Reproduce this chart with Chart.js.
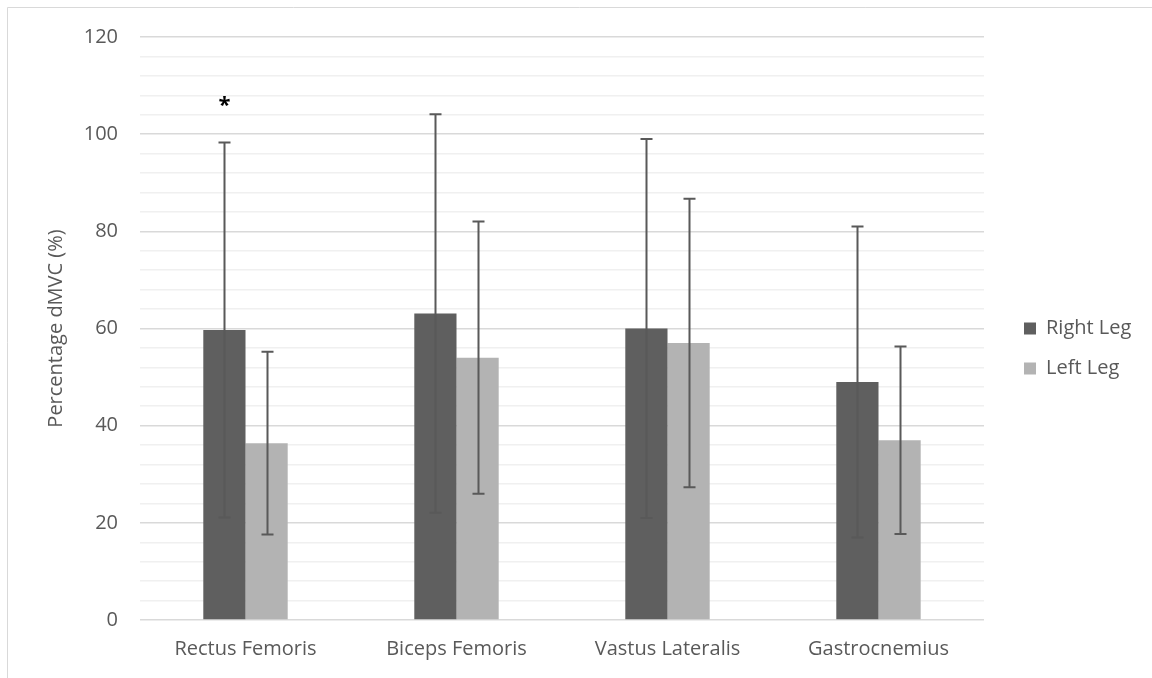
<!DOCTYPE html>
<html>
<head>
<meta charset="utf-8">
<script src="https://cdn.jsdelivr.net/npm/chart.js@4/dist/chart.umd.min.js"></script>
<style>
  html, body { margin: 0; padding: 0; background: #fff; }
  #wrap { width: 1152px; height: 678px; position: relative; }
</style>
</head>
<body>
<div id="wrap"><canvas id="chart"></canvas></div>
<script>
const muscles = ["Rectus Femoris", "Biceps Femoris", "Vastus Lateralis", "Gastrocnemius"];
const rightLeg = [59.7, 63.1, 60.0, 49.0];
const leftLeg = [36.4, 54.0, 57.0, 37.0];
const rightErr = [38.6, 41.0, 39.0, 32.0];
const leftErr = [18.8, 28.0, 29.7, 19.3];
const starred = [true, false, false, false]; // significant difference marker
const starValue = 106;

const axisGrey = "#595959";
const fontFam = "'Open Sans'";

// thin frame round the figure like the office export
const framePlugin = {
    id: "frame",
    beforeDraw(chart) {
        const ctx = chart.ctx;
        ctx.save();
        ctx.fillStyle = "#fff";
        ctx.fillRect(0, 0, chart.width, chart.height);
        ctx.strokeStyle = "#d9d9d9";
        ctx.lineWidth = 1;
        ctx.beginPath();
        ctx.moveTo(7.5, chart.height);
        ctx.lineTo(7.5, 7.5);
        ctx.lineTo(chart.width, 7.5);
        ctx.stroke();
        ctx.restore();
    }
};

// legend sits a bit away from the plot, with a fixed width
const legendPlacer = {
    id: "legendPlacer",
    beforeLayout(chart) {
        const lg = chart.legend;
        if (lg && !lg._wideFit) {
            const origFit = lg.fit;
            lg.fit = function() {
                origFit.call(this);
                this.width = 168;
            };
            lg._wideFit = true;
        }
    },
    afterLayout(chart) {
        const lg = chart.legend;
        lg.left = chart.chartArea.right + 20;
        lg.top -= 5;
        lg.bottom -= 5;
    }
};

const errorBarPlugin = {
    id: "errorBars",
    afterDatasetsDraw(chart) {
        const ctx = chart.ctx;
        const yScale = chart.scales.y;
        const errs = [rightErr, leftErr];
        ctx.save();
        ctx.strokeStyle = "#595959";
        ctx.lineWidth = 2;
        chart.data.datasets.forEach((ds, di) => {
            const meta = chart.getDatasetMeta(di);
            meta.data.forEach((bar, i) => {
                const v = ds.data[i];
                const e = errs[di][i];
                const x = Math.round(bar.x) + 0.5;
                const yTop = yScale.getPixelForValue(v + e);
                const yBot = yScale.getPixelForValue(v - e);
                ctx.beginPath();
                ctx.moveTo(x, yTop);
                ctx.lineTo(x, yBot);
                ctx.moveTo(x - 6, yTop);
                ctx.lineTo(x + 6, yTop);
                ctx.moveTo(x - 6, yBot);
                ctx.lineTo(x + 6, yBot);
                ctx.stroke();
            });
        });
        // asterisk markers
        const meta0 = chart.getDatasetMeta(0);
        ctx.fillStyle = "#000";
        ctx.font = "bold 22px " + fontFam;
        ctx.textAlign = "center";
        ctx.textBaseline = "middle";
        starred.forEach((s, i) => {
            if (!s) return;
            ctx.fillText("*", meta0.data[i].x, yScale.getPixelForValue(starValue) + 1);
        });
        ctx.restore();
    }
};

new Chart(document.getElementById("chart"), {
    type: "bar",
    data: {
        labels: muscles,
        datasets: [
            {
                label: "Right Leg",
                data: rightLeg,
                backgroundColor: "#5f5f5f",
                categoryPercentage: 0.4,
                barPercentage: 1.0
            },
            {
                label: "Left Leg",
                data: leftLeg,
                backgroundColor: "#b3b3b3",
                categoryPercentage: 0.4,
                barPercentage: 1.0
            }
        ]
    },
    options: {
        responsive: true,
        maintainAspectRatio: false,
        animation: false,
        layout: { padding: { top: 37, left: 20, right: 0, bottom: 8 } },
        plugins: {
            legend: {
                position: "right",
                labels: {
                    color: axisGrey,
                    font: { family: fontFam, size: 20 },
                    boxWidth: 12,
                    boxHeight: 12,
                    padding: 20
                }
            },
            tooltip: { enabled: false }
        },
        scales: {
            x: {
                grid: { display: false },
                border: { display: false },
                ticks: {
                    color: axisGrey,
                    font: { family: fontFam, size: 20 },
                    padding: 9
                }
            },
            y: {
                min: 0,
                max: 120,
                afterFit(scale) { scale.width = 120; },
                border: { display: false },
                grid: {
                    color: (c) => (c.tick && c.tick.value % 20 === 0) ? "#d9d9d9" : "#f0f0f0",
                    lineWidth: 1.5,
                    drawTicks: false
                },
                ticks: {
                    stepSize: 4,
                    autoSkip: false,
                    padding: 22,
                    color: axisGrey,
                    font: { family: fontFam, size: 20 },
                    callback: (v) => (v % 20 === 0 ? v : "")
                },
                title: {
                    display: true,
                    text: "Percentage dMVC (%)",
                    color: axisGrey,
                    font: { family: fontFam, size: 20 },
                    padding: { top: 24, bottom: 0 }
                }
            }
        }
    },
    plugins: [framePlugin, legendPlacer, errorBarPlugin]
});
</script>
</body>
</html>
